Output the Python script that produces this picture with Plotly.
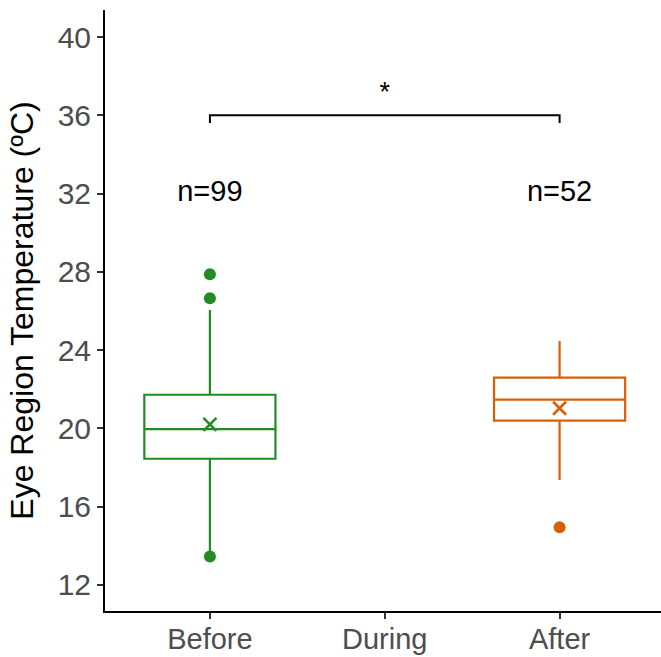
import plotly.graph_objects as go

categories = ["Before", "During", "After"]
groups = ["Before", "After"]
colors = ["#228B22", "#D95F02"]
q1 = [18.45, 20.40]
median = [19.96, 21.47]
q3 = [21.72, 22.59]
lowerfence = [13.55, 17.37]
upperfence = [26.05, 24.47]
means = [20.21, 21.03]
outliers = [[13.45, 26.65, 27.88], [14.95]]
n_labels = ["n=99", "n=52"]
n_label_y = 32.0
bracket_x = ["Before", "Before", "After", "After"]
bracket_y = [35.6, 36.0, 36.0, 35.6]
sig_label = "*"
sig_y = 37.1
yticks = [12, 16, 20, 24, 28, 32, 36, 40]

FONT = "Liberation Sans, Arial"

fig = go.Figure()
for i, g in enumerate(groups):
    fig.add_trace(go.Box(
        x=[g], q1=[q1[i]], median=[median[i]], q3=[q3[i]],
        lowerfence=[lowerfence[i]], upperfence=[upperfence[i]],
        width=0.75, whiskerwidth=0, line=dict(color=colors[i], width=2.2),
        fillcolor="rgba(0,0,0,0)", boxpoints=False, showlegend=False,
        hoverinfo="skip"))
    fig.add_trace(go.Scatter(
        x=[g] * len(outliers[i]), y=outliers[i], mode="markers",
        marker=dict(color=colors[i], size=12), showlegend=False, hoverinfo="skip"))
    fig.add_trace(go.Scatter(
        x=[g], y=[means[i]], mode="markers",
        marker=dict(symbol="x-thin", size=13, line=dict(color=colors[i], width=2.5)),
        showlegend=False, hoverinfo="skip"))
    fig.add_trace(go.Scatter(
        x=[g], y=[n_label_y], mode="text", text=[n_labels[i]],
        textfont=dict(family=FONT, size=29, color="black"),
        showlegend=False, hoverinfo="skip"))

fig.add_trace(go.Scatter(
    x=bracket_x, y=bracket_y, mode="lines",
    line=dict(color="black", width=2), showlegend=False, hoverinfo="skip"))
fig.add_trace(go.Scatter(
    x=["During"], y=[sig_y], mode="text", text=[sig_label],
    textfont=dict(family=FONT, size=27, color="black"),
    showlegend=False, hoverinfo="skip"))

fig.update_layout(
    width=661, height=657,
    margin=dict(l=105, r=0, t=10, b=46),
    plot_bgcolor="white", paper_bgcolor="white",
    font=dict(family=FONT, color="black"),
    xaxis=dict(
        type="category", categoryorder="array", categoryarray=categories,
        range=[-0.6, 2.58], showline=True, linecolor="black", linewidth=2,
        ticks="outside", ticklen=6, tickwidth=2, tickcolor="#333333",
        tickfont=dict(size=29, color="#4D4D4D"), showgrid=False, zeroline=False,
        ticklabelstandoff=-5, automargin=False, fixedrange=True),
    yaxis=dict(
        range=[10.67, 41.38], tickvals=yticks, showline=True, linecolor="black",
        linewidth=2, ticks="outside", ticklen=6, tickwidth=2, tickcolor="#333333",
        tickfont=dict(size=30, color="#4D4D4D"), showgrid=False, zeroline=False,
        automargin=False,
        title=dict(text="Eye Region Temperature (ºC)", font=dict(size=32, color="black"), standoff=14)),
)

fig.write_html("out.html")
